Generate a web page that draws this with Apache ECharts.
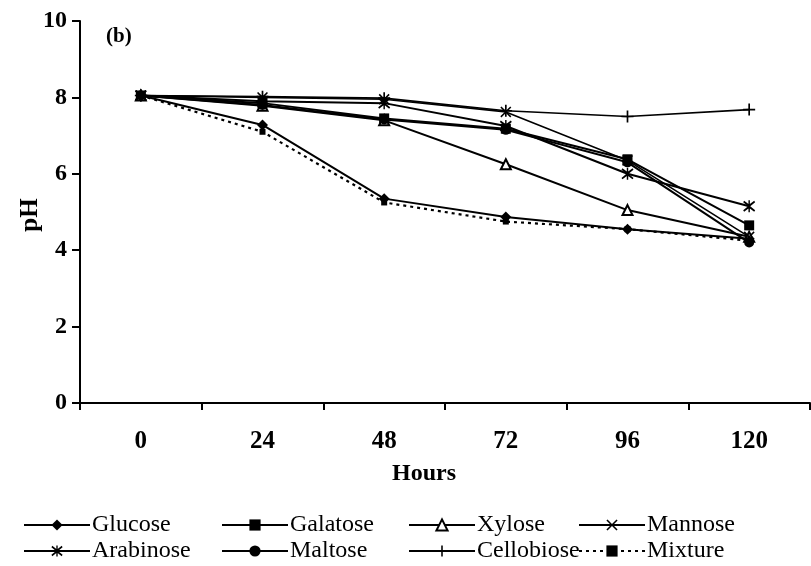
<!DOCTYPE html>
<html>
<head>
<meta charset="utf-8">
<script src="https://cdn.jsdelivr.net/npm/echarts@6/dist/echarts.min.js"></script>
<style>
  html, body { margin: 0; padding: 0; background: #fff; }
  #chart { width: 811px; height: 566px; }
</style>
</head>
<body>
<div id="chart"></div>
<script>
// Sampling times (hours) and pH readings for each carbon source
const hours = ['0', '24', '48', '72', '96', '120'];
const glucose    = [8.05, 7.28, 5.35, 4.87, 4.55, 4.30];
const galatose   = [8.05, 7.85, 7.45, 7.18, 6.38, 4.65];
const xylose     = [8.05, 7.78, 7.40, 6.25, 5.05, 4.35];
const mannose    = [8.05, 8.00, 7.95, 7.62, 6.35, 4.35];
const arabinose  = [8.05, 7.90, 7.85, 7.25, 6.00, 5.15];
const maltose    = [8.05, 7.80, 7.42, 7.15, 6.30, 4.20];
const cellobiose = [8.05, 8.02, 7.98, 7.65, 7.50, 7.68];
const mixture    = [8.05, 7.10, 5.25, 4.75, 4.55, 4.25];
const yTicks = { min: 0, max: 10, step: 2 };

const FONT = '"Liberation Serif", "DejaVu Serif", serif';

// marker outlines
const SYM_X = 'path://M0,1L1,0L5,4L9,0L10,1L6,5L10,9L9,10L5,6L1,10L0,9L4,5Z';
const SYM_STAR = 'path://M0,1.6L0.8,0.4L5,3.6L9.2,0.4L10,1.6L5.9,5L10,8.4L9.2,9.6L5,6.4L0.8,9.6L0,8.4L4.1,5Z M4.4,0L5.6,0L5.6,10L4.4,10Z';
const SYM_PLUS = 'path://M4.3,0H5.7V4.3H10V5.7H5.7V10H4.3V5.7H0V4.3H4.3Z';

function mkSeries(name, data, symbol, size, opts) {
  opts = opts || {};
  return {
    name: name,
    type: 'line',
    data: data,
    symbol: symbol,
    symbolSize: size,
    showSymbol: true,
    z: opts.z || 2,
    lineStyle: { color: '#000', width: opts.width || 2, type: opts.dash || 'solid' },
    itemStyle: {
      color: opts.fill || '#000',
      borderColor: '#000',
      borderWidth: opts.border || 0
    },
    emphasis: { disabled: true },
    animation: false
  };
}

const series = [
  mkSeries('Glucose', glucose, 'diamond', 11),
  mkSeries('Galatose', galatose, 'rect', 10),
  mkSeries('Xylose', xylose, 'triangle', 10, { fill: '#fff', border: 2 }),
  mkSeries('Mannose', mannose, SYM_X, 11, { width: 1.6 }),
  mkSeries('Arabinose', arabinose, SYM_STAR, 12),
  mkSeries('Maltose', maltose, 'circle', 10),
  mkSeries('Cellobiose', cellobiose, SYM_PLUS, 12, { width: 1.6 }),
  mkSeries('Mixture', mixture, 'rect', 6, { dash: [3, 4], width: 2.2 })
];

// two legend rows, four entries each
const legendPos = [
  ['Glucose', 18, 508], ['Galatose', 216, 508], ['Xylose', 403, 508], ['Mannose', 573, 508],
  ['Arabinose', 18, 534], ['Maltose', 216, 534], ['Cellobiose', 403, 534], ['Mixture', 573, 534]
];
const legends = legendPos.map(function (p) {
  return {
    data: [p[0]],
    left: p[1],
    top: p[2],
    itemWidth: 66,
    itemHeight: 14,
    itemGap: 2,
    selectedMode: false,
    textStyle: { fontFamily: FONT, fontSize: 24, color: '#000', padding: [0, 0, 0, -3] }
  };
});

const chart = echarts.init(document.getElementById('chart'), null, { renderer: 'canvas' });
chart.setOption({
  backgroundColor: '#fff',
  animation: false,
  legend: legends,
  grid: { left: 80, right: 1, top: 21, bottom: 163, containLabel: false },
  xAxis: {
    type: 'category',
    data: hours,
    boundaryGap: true,
    axisLine: { lineStyle: { color: '#000', width: 2 } },
    axisTick: { show: true, length: 7, lineStyle: { color: '#000', width: 2 } },
    axisLabel: { color: '#000', fontFamily: FONT, fontSize: 25, fontWeight: 'bold', margin: 26 },
    splitLine: { show: false }
  },
  yAxis: {
    type: 'value',
    min: yTicks.min,
    max: yTicks.max,
    interval: yTicks.step,
    axisLine: { show: true, lineStyle: { color: '#000', width: 2 } },
    axisTick: { show: true, length: 8, lineStyle: { color: '#000', width: 2 } },
    axisLabel: { color: '#000', fontFamily: FONT, fontSize: 24, fontWeight: 'bold', margin: 13 },
    splitLine: { show: false }
  },
  graphic: [
    { type: 'text', left: 106, top: 26, style: { text: '(b)', font: 'bold 21px ' + FONT, fill: '#000' } },
    { type: 'text', x: 424, y: 474, style: { text: 'Hours', font: 'bold 24px ' + FONT, fill: '#000', align: 'center', verticalAlign: 'middle' } },
    { type: 'text', x: 31, y: 215, rotation: Math.PI / 2, style: { text: 'pH', font: 'bold 25px ' + FONT, fill: '#000', align: 'center', verticalAlign: 'middle' } }
  ],
  series: series
});
</script>
</body>
</html>
